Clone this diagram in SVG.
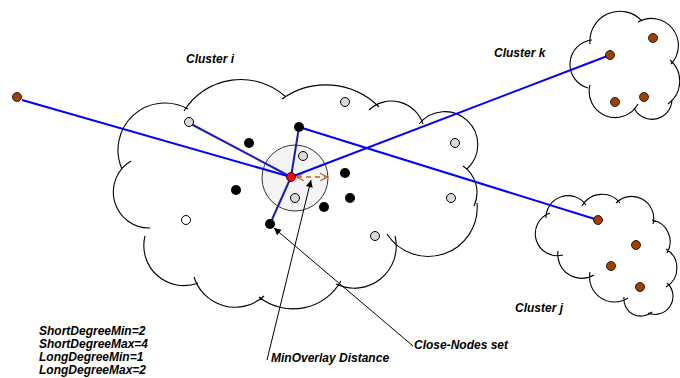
<svg xmlns="http://www.w3.org/2000/svg" width="680" height="378" viewBox="0 0 680 378">
<defs>
<style>
.cloud{fill:none;stroke:#000;stroke-width:1.1}
.g{fill:#d9dbd6;stroke:#000;stroke-width:1}
.w{fill:#fff;stroke:#000;stroke-width:1}
.b{fill:#000}
.br{fill:#a04000;stroke:#000;stroke-width:0.8}
.long{stroke:#0000ff;stroke-width:2;fill:none}
.short{stroke:#1a1ab8;stroke-width:2;fill:none}
.lbl{font-family:"Liberation Sans",Arial,sans-serif;font-weight:bold;font-style:italic;font-size:12px;fill:#000}
.ptr{stroke:#000;stroke-width:1;fill:none}
</style>
<marker id="ah" viewBox="0 0 10 10" refX="10" refY="5" markerWidth="9" markerHeight="7" markerUnits="userSpaceOnUse" orient="auto">
<path d="M0,0 L10,5 L0,10 z" fill="#000"/>
</marker>
<marker id="oh" viewBox="0 0 10 10" refX="9" refY="5" markerWidth="8" markerHeight="8" markerUnits="userSpaceOnUse" orient="auto-start-reverse">
<path d="M0,0 L9,5 L0,10" fill="none" stroke="#c06028" stroke-width="1.5"/>
</marker>
</defs>
<rect width="680" height="378" fill="#fff"/>

<g id="cluster-i">
<path class="cloud" d="M122 169 A47 47 0 0 1 188 109 M184 111 A67 67 0 0 1 286 97 M282 99 A75 75 0 0 1 379 107 M369 110 A33 33 0 0 1 423 124 M419 124 A33 33 0 1 1 467 169 M463 166 A32 32 0 0 1 474 206 M477 203 A49 49 0 0 1 387 234 M395 236 A42 42 0 0 1 336 284 M341 281 A55 55 0 0 1 259 297 M264 296 A43 43 0 0 1 194 277 M198 283 A40 40 0 0 1 145 236 M150 228 A36 36 0 0 1 131 161"/>
<circle cx="295" cy="178" r="33" fill="#f4f4f4" stroke="#333" stroke-width="1"/>
</g>

<g id="cluster-k">
<path class="cloud" d="M588 88 A24.5 24.5 0 0 1 592 40 M590 44 A30 30 0 0 1 642 21 M638 22 A27 27 0 0 1 671 64 M670 60 A28 28 0 0 1 668 104 M672 100 A20 20 0 0 1 634 108 M638 104 A26 26 0 0 1 590 85"/>
</g>

<g id="cluster-j">
<path class="cloud" d="M546 218 A22 22 0 0 1 586 205 M582 206 A23 23 0 0 1 620 203 M616 203 A22 22 0 0 1 653 224 M652 220 A22 22 0 0 1 667 253 M666 249 A22 22 0 0 1 666 287 M667 283 A18 18 0 0 1 648 313 M652 312 A17 17 0 0 1 624 297 M628 298 A25 25 0 0 1 590 272 M594 275 A24 24 0 0 1 558 251 M563 255 A22 22 0 0 1 550 213"/>
</g>

<g id="connectors">
<line class="long" x1="22" y1="100" x2="291" y2="177"/>
<line class="short" x1="191" y1="124" x2="291" y2="177"/>
<line class="short" x1="299" y1="127" x2="291" y2="177"/>
<line class="short" x1="270" y1="224" x2="291" y2="177"/>
<line class="long" x1="291" y1="177" x2="610" y2="55"/>
<line class="long" x1="299" y1="127" x2="598" y2="220"/>
<line x1="297" y1="177" x2="327" y2="177" stroke="#c06028" stroke-width="1.3" stroke-dasharray="5,4" marker-start="url(#oh)" marker-end="url(#oh)"/>
<line class="ptr" x1="267" y1="360" x2="311" y2="180" marker-end="url(#ah)"/>
<line class="ptr" x1="413" y1="346" x2="274" y2="228" marker-end="url(#ah)"/>
</g>

<g id="nodes-i">
<circle class="g" cx="189" cy="122" r="4.5"/>
<circle class="g" cx="345" cy="102" r="4.5"/>
<circle class="g" cx="455" cy="143" r="4.5"/>
<circle class="g" cx="451" cy="198" r="4.5"/>
<circle class="g" cx="375" cy="236" r="4.5"/>
<circle class="g" cx="303" cy="156" r="4.5"/>
<circle class="g" cx="295" cy="198" r="4.5"/>
<circle class="w" cx="186" cy="220" r="4.5"/>
<circle class="b" cx="299" cy="127" r="5"/>
<circle class="b" cx="249" cy="143" r="5"/>
<circle class="b" cx="236" cy="190" r="5"/>
<circle class="b" cx="270" cy="224" r="5"/>
<circle class="b" cx="345" cy="173" r="5"/>
<circle class="b" cx="350" cy="198" r="5"/>
<circle class="b" cx="324" cy="207" r="5"/>
<circle cx="291" cy="177" r="4.5" fill="#ff0000" stroke="#000" stroke-width="0.8"/>
</g>

<g id="nodes-other">
<circle class="br" cx="17" cy="97" r="4.5"/>
<circle class="br" cx="610" cy="55" r="4.5"/>
<circle class="br" cx="653" cy="38" r="4.5"/>
<circle class="br" cx="615" cy="102" r="4.5"/>
<circle class="br" cx="644" cy="97" r="4.5"/>
<circle class="br" cx="598" cy="220" r="4.5"/>
<circle class="br" cx="636" cy="245" r="4.5"/>
<circle class="br" cx="611" cy="266" r="4.5"/>
<circle class="br" cx="640" cy="287" r="4.5"/>
</g>

<g id="labels">
<text class="lbl" x="186" y="63">Cluster i</text>
<text class="lbl" x="494" y="57">Cluster k</text>
<text class="lbl" x="515" y="312">Cluster j</text>
<text class="lbl" x="271" y="362">MinOverlay Distance</text>
<text class="lbl" x="414" y="349">Close-Nodes set</text>
<text class="lbl" x="39" y="335">ShortDegreeMin=2</text>
<text class="lbl" x="39" y="348">ShortDegreeMax=4</text>
<text class="lbl" x="39" y="361">LongDegreeMin=1</text>
<text class="lbl" x="39" y="374">LongDegreeMax=2</text>
</g>
</svg>
